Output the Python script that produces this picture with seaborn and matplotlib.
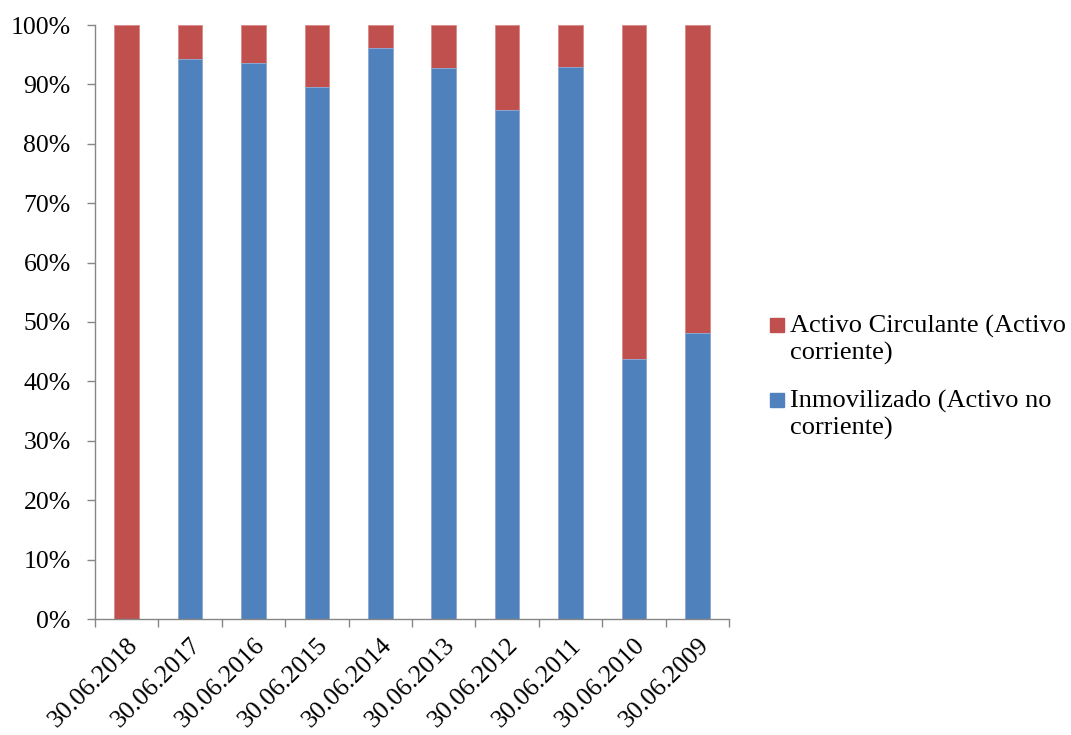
import matplotlib
matplotlib.use("Agg")
import matplotlib.pyplot as plt
import matplotlib.patches as mpatches
import matplotlib.transforms as mtransforms
from matplotlib.ticker import FixedLocator, PercentFormatter
import numpy as np
import pandas as pd
import seaborn as sns

# Balance structure by closing date (share of total assets, %)
fechas = ["30.06.2018", "30.06.2017", "30.06.2016", "30.06.2015", "30.06.2014",
          "30.06.2013", "30.06.2012", "30.06.2011", "30.06.2010", "30.06.2009"]
inmovilizado = [0.0, 94.3, 93.6, 89.6, 96.2, 92.8, 85.7, 92.9, 43.8, 48.2]
circulante = [100.0 - v for v in inmovilizado]

serie_circ = "Activo Circulante (Activo\ncorriente)"
serie_inmov = "Inmovilizado (Activo no\ncorriente)"
color_circ = "#C0504D"
color_inmov = "#4F81BD"

df = pd.DataFrame({"fecha": fechas, "inmov": inmovilizado, "circ": circulante})
df["total"] = df["inmov"] + df["circ"]

sns.set_theme(style="white")
plt.rcParams["font.family"] = ["Liberation Serif", "DejaVu Serif"]

W, H = 1071, 735
fig = plt.figure(figsize=(W / 100, H / 100), dpi=100)
ax = fig.add_axes([95 / W, 1 - 619 / H, 634 / W, 594 / H])

# stacked: full-height red bar underneath, blue bottom segment on top
sns.barplot(data=df, x="fecha", y="total", color=color_circ, saturation=1,
            width=0.39, edgecolor="#D98A88", linewidth=0.6, ax=ax)
sns.barplot(data=df, x="fecha", y="inmov", color=color_inmov, saturation=1,
            width=0.39, edgecolor="#8FB0DA", linewidth=0.6, ax=ax)

ax.set_xlim(-0.5, len(fechas) - 0.5)
ax.set_ylim(0, 100)
ax.set_xlabel("")
ax.set_ylabel("")

ax.yaxis.set_major_locator(FixedLocator(np.arange(0, 101, 10)))
ax.yaxis.set_major_formatter(PercentFormatter(decimals=0))

ax.set_xticks(range(len(fechas)))
ax.set_xticklabels(fechas, rotation=45, ha="right", va="top",
                   rotation_mode="anchor")
shift = mtransforms.ScaledTranslation(5 / 100, 0, fig.dpi_scale_trans)
for lab in ax.get_xticklabels():
    lab.set_transform(lab.get_transform() + shift)
ax.set_xticks(np.arange(-0.5, len(fechas)), minor=True)
ax.tick_params(axis="x", which="major", length=0, pad=11, labelsize=18.5,
               labelcolor="black")
ax.tick_params(axis="x", which="minor", length=5.5, width=1, color="#868686",
               direction="out", bottom=True)
ax.tick_params(axis="y", which="major", length=5.5, width=1, color="#868686",
               direction="out", left=True, labelsize=18.5, pad=12,
               labelcolor="black")

for side in ["top", "right"]:
    ax.spines[side].set_visible(False)
for side in ["left", "bottom"]:
    ax.spines[side].set_color("#868686")
    ax.spines[side].set_linewidth(1)

# legend: square key aligned with the first line of each wrapped label
entradas = [(serie_circ, color_circ, 333), (serie_inmov, color_inmov, 408)]
for texto, color, base in entradas:
    fig.patches.append(mpatches.Rectangle((770 / W, 1 - (base - 1) / H),
                                          14 / W, 14 / H, color=color,
                                          transform=fig.transFigure,
                                          figure=fig))
    for i, linea in enumerate(texto.split("\n")):
        fig.text(790 / W, 1 - (base + 27 * i) / H, linea, fontsize=19,
                 va="baseline", ha="left", color="black")

fig.savefig("out.png", dpi=100, facecolor="white")
